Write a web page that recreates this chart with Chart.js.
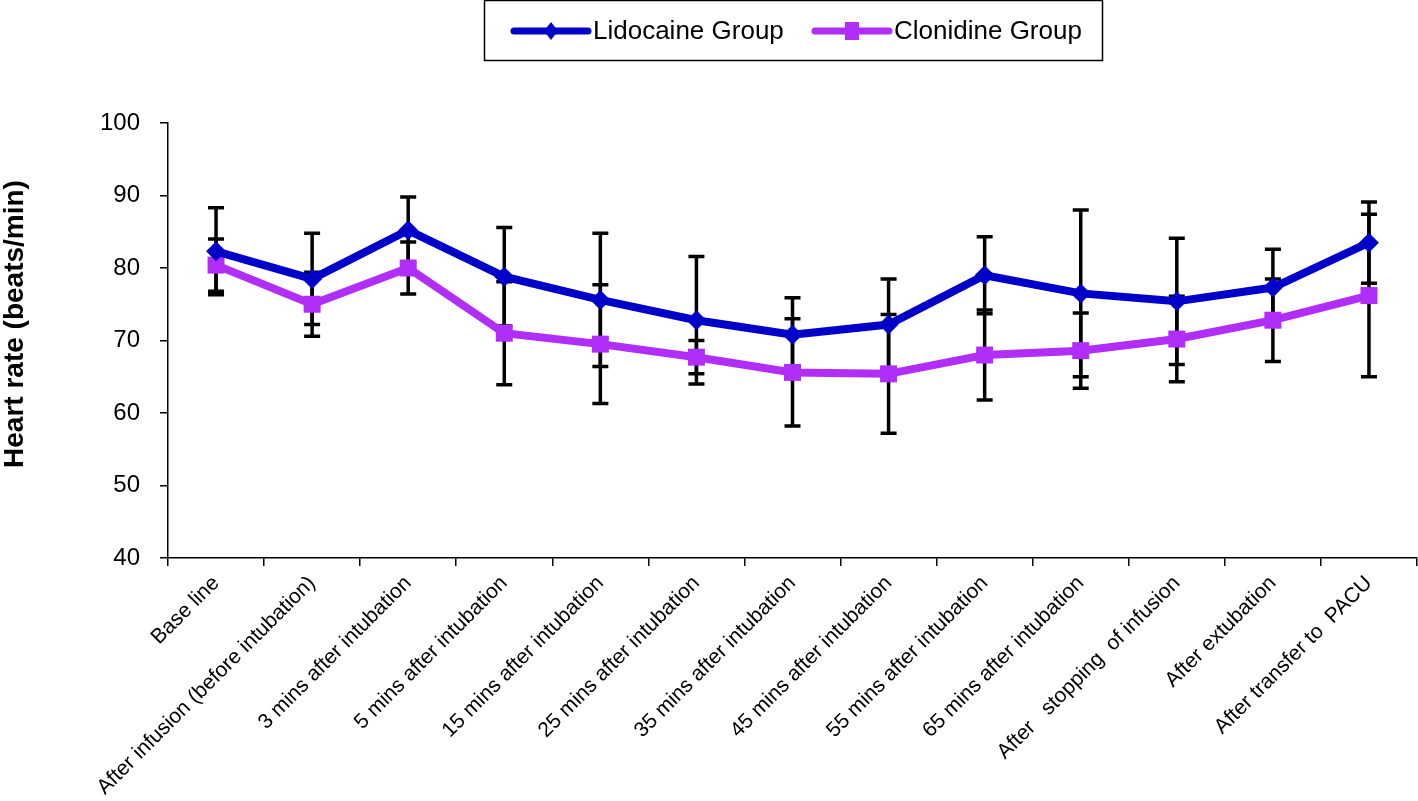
<!DOCTYPE html>
<html lang="en">
<head>
    <meta charset="UTF-8">
    <title>Heart rate</title>
    <script src="https://cdn.jsdelivr.net/npm/chart.js"></script>
    <style>
        body { margin: 0; background: #fff; }
    </style>
</head>
<body>
    <canvas id="chart" width="1418" height="801"></canvas>
    <script>
        const labels = ['Base line', 'After infusion (before intubation)', '3 mins after intubation',
            '5 mins after intubation', '15 mins after intubation', '25 mins after intubation',
            '35 mins after intubation', '45 mins after intubation', '55 mins after intubation',
            '65 mins after intubation', 'After   stopping  of infusion', 'After extubation',
            'After transfer to  PACU'];
        const lidocaine = [82.3, 78.5, 85.2, 78.8, 75.6, 72.8, 70.8, 72.2, 79.0, 76.5, 75.4, 77.3, 83.5];
        const lidocaineSD = [6.0, 6.3, 4.6, 6.8, 9.2, 8.8, 5.1, 6.3, 5.3, 11.5, 8.7, 5.3, 5.6];
        const clonidine = [80.4, 75.0, 80.0, 71.0, 69.5, 67.7, 65.6, 65.4, 68.0, 68.6, 70.2, 72.8, 76.2];
        const clonidineSD = [3.6, 4.4, 3.6, 7.1, 8.2, 2.3, 7.4, 8.2, 6.2, 5.2, 5.9, 5.7, 11.2];
        const yTicks = [40, 50, 60, 70, 80, 90, 100];
        const yTitle = 'Heart rate (beats/min)';

        const blue = '#0000C8';
        const purple = '#B02EF8';
        const font = '"Liberation Sans", Arial, sans-serif';

        // error bars drawn under the lines
        const errorBars = {
            id: 'errorBars',
            beforeDatasetsDraw(chart) {
                const { ctx, scales: { x, y } } = chart;
                ctx.save();
                ctx.strokeStyle = '#000';
                ctx.lineWidth = 3.5;
                chart.data.datasets.forEach(ds => {
                    ds.sd.forEach((s, i) => {
                        const px = x.getPixelForValue(i);
                        const hi = y.getPixelForValue(ds.data[i] + s);
                        const lo = y.getPixelForValue(ds.data[i] - s);
                        ctx.beginPath();
                        ctx.moveTo(px, hi); ctx.lineTo(px, lo);
                        ctx.moveTo(px - 8, hi); ctx.lineTo(px + 8, hi);
                        ctx.moveTo(px - 8, lo); ctx.lineTo(px + 8, lo);
                        ctx.stroke();
                    });
                });
                ctx.restore();
            }
        };

        // boxed legend with line + marker samples, and the y title
        const boxLegend = {
            id: 'boxLegend',
            afterDraw(chart) {
                const ctx = chart.ctx;
                ctx.save();
                ctx.strokeStyle = '#000';
                ctx.lineWidth = 1.5;
                ctx.strokeRect(484.5, 0.5, 618, 60);
                ctx.font = '26px ' + font;
                ctx.textBaseline = 'middle';
                const items = [[514, chart.data.datasets[0]], [815, chart.data.datasets[1]]];
                items.forEach(([x0, ds]) => {
                    const cy = 31;
                    ctx.strokeStyle = ds.borderColor;
                    ctx.lineWidth = 7;
                    ctx.lineCap = 'round';
                    ctx.beginPath(); ctx.moveTo(x0, cy); ctx.lineTo(x0 + 74, cy); ctx.stroke();
                    ctx.fillStyle = ds.borderColor;
                    const mx = x0 + 37;
                    if (ds.pointStyle === 'rectRot') {
                        ctx.beginPath();
                        ctx.moveTo(mx, cy - 9); ctx.lineTo(mx + 7, cy); ctx.lineTo(mx, cy + 9); ctx.lineTo(mx - 7, cy);
                        ctx.closePath(); ctx.fill();
                    } else {
                        ctx.fillRect(mx - 7, cy - 9, 14, 18);
                    }
                    ctx.fillStyle = '#000';
                    ctx.fillText(ds.label, x0 + 79, cy + 1);
                });

                ctx.translate(15, 324);
                ctx.rotate(-Math.PI / 2);
                ctx.textAlign = 'center';
                ctx.font = 'bold 28px ' + font;
                ctx.fillStyle = '#000';
                ctx.fillText(yTitle, 0, 0);
                ctx.restore();
            }
        };

        new Chart(document.getElementById('chart').getContext('2d'), {
            type: 'line',
            data: {
                labels: labels,
                datasets: [{
                    label: 'Lidocaine Group',
                    data: lidocaine,
                    sd: lidocaineSD,
                    borderColor: blue,
                    backgroundColor: blue,
                    borderWidth: 8,
                    pointStyle: 'rectRot',
                    pointRadius: 10,
                    pointBorderWidth: 0,
                    tension: 0
                }, {
                    label: 'Clonidine Group',
                    data: clonidine,
                    sd: clonidineSD,
                    borderColor: purple,
                    backgroundColor: purple,
                    borderWidth: 8,
                    pointStyle: 'rect',
                    pointRadius: 12,
                    pointBorderWidth: 0,
                    tension: 0
                }]
            },
            options: {
                responsive: false,
                animation: false,
                layout: { autoPadding: false, padding: { top: 123, right: 1, left: 0, bottom: 0 } },
                plugins: {
                    legend: { display: false },
                    tooltip: { enabled: false }
                },
                scales: {
                    x: {
                        offset: true,
                        grid: { offset: true, drawOnChartArea: false, color: '#000', tickLength: 8, lineWidth: 1.5 },
                        border: { color: '#000', width: 1.5 },
                        ticks: {
                            color: '#000',
                            font: { family: font, size: 21 },
                            minRotation: 45,
                            maxRotation: 45,
                            autoSkip: false,
                            padding: 5
                        },
                        afterFit(scale) {
                            scale.height = 243;
                            scale.paddingLeft = 0;
                            scale.paddingRight = 0;
                        }
                    },
                    y: {
                        min: 40,
                        max: 100,
                        afterBuildTicks(scale) { scale.ticks = yTicks.map(v => ({ value: v })); },
                        grid: { drawOnChartArea: false, color: '#000', tickLength: 8, lineWidth: 1.5 },
                        border: { color: '#000', width: 1.5 },
                        ticks: {
                            color: '#000',
                            font: { family: font, size: 24 },
                            padding: 20
                        },
                        afterFit(scale) { scale.width = 168; }
                    }
                }
            },
            plugins: [errorBars, boxLegend]
        });
    </script>
</body>
</html>
